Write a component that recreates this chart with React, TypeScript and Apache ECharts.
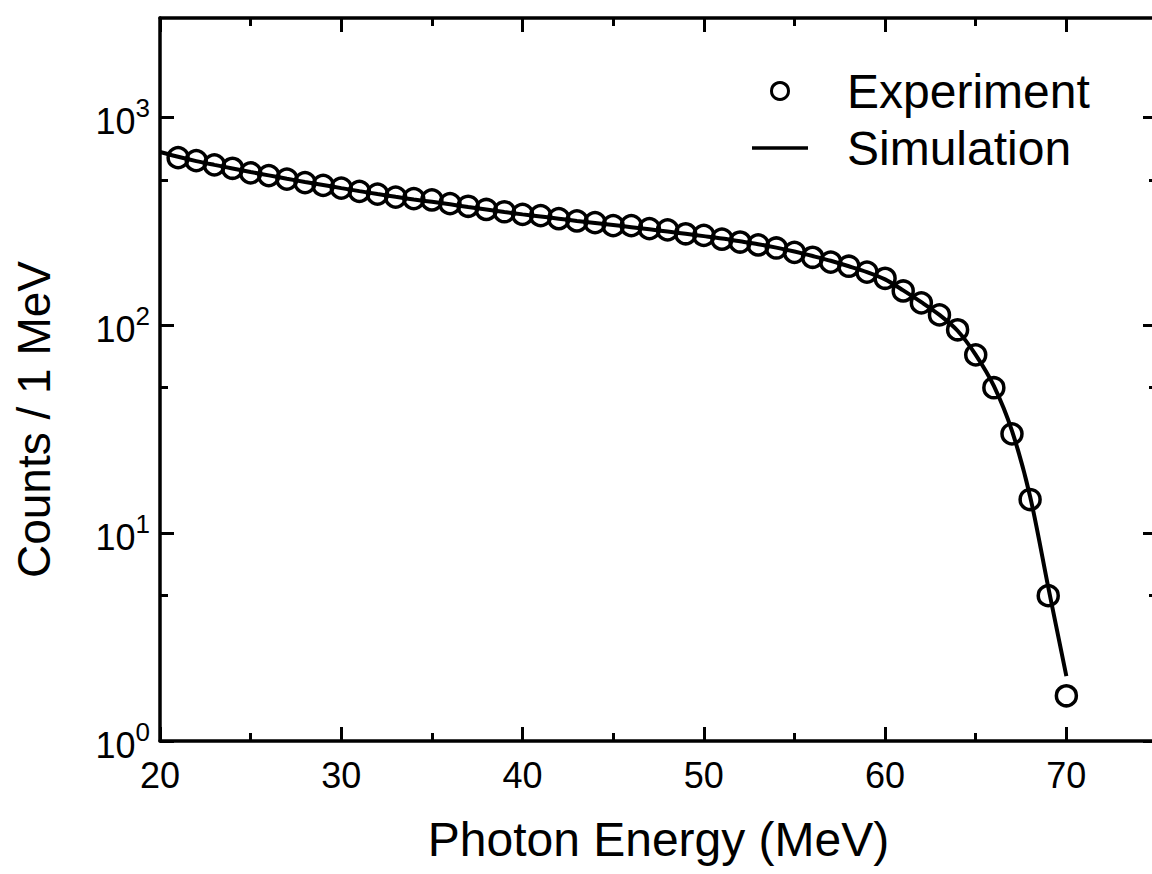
import React, { useEffect, useRef } from "react";
import * as echarts from "echarts";

// Measured photon spectrum (1 MeV bins)
const experimentEnergy = [
  21, 22, 23, 24, 25, 26, 27, 28, 29, 30,
  31, 32, 33, 34, 35, 36, 37, 38, 39, 40,
  41, 42, 43, 44, 45, 46, 47, 48, 49, 50,
  51, 52, 53, 54, 55, 56, 57, 58, 59, 60,
  61, 62, 63, 64, 65, 66, 67, 68, 69, 70,
];
const experimentCounts = [
  639, 618, 590, 568, 540, 524, 504, 485, 470, 456,
  440, 427, 413, 406, 400, 384, 373, 360, 351, 341,
  336, 325, 317, 311, 301, 301, 291, 287, 275, 270,
  259, 251, 243, 235, 224, 212, 201, 192, 180, 168,
  146, 128, 112, 95, 72, 50, 30, 14.5, 5.0, 1.65,
];

// Simulated spectrum
const simulationEnergy = [
  20, 21, 22, 23, 24, 25, 26, 27, 28, 29, 30,
  31, 32, 33, 34, 35, 36, 37, 38, 39, 40,
  41, 42, 43, 44, 45, 46, 47, 48, 49, 50,
  51, 52, 53, 54, 55, 56, 57, 58, 59, 60,
  61, 62, 63, 64, 65, 66, 67, 68, 69, 70,
];
const simulationCounts = [
  680, 645, 615, 590, 567, 545, 525, 506, 488, 472, 456,
  441, 427, 414, 402, 392, 381, 370, 360, 350, 341,
  333, 325, 317, 310, 303, 296, 289, 282, 275, 268,
  261, 253, 245, 236, 226, 215, 204, 192, 180, 166,
  147, 129, 112, 94, 72, 51, 31, 15, 5.5, 2.05,
];

// Axis ticks
const xMajorTicks = [20, 30, 40, 50, 60, 70];
const xMinorTicks = [25, 35, 45, 55, 65];
const yMajorTicks = [1, 10, 100, 1000];
const yMinorTicks = [5, 50, 500];

const X_MIN = 20;
const X_MAX = 75;
const Y_MIN = 1;
const Y_MAX = 3000;

const FONT = '"Liberation Sans", Arial, Helvetica, sans-serif';
const INK = "#000";
const AXIS_W = 3.5;

function xAxisDef(position: "top" | "bottom", ticks: number[], length: number, main: boolean, labels: boolean) {
  return {
    type: "value",
    position,
    min: X_MIN,
    max: X_MAX,
    axisLine: { show: main, onZero: false, lineStyle: { color: INK, width: AXIS_W } },
    axisTick: { show: true, inside: true, length, customValues: ticks, lineStyle: { color: INK, width: 3 } },
    axisLabel: labels
      ? { show: true, customValues: ticks, fontSize: 36, color: INK, fontFamily: FONT, margin: 16 }
      : { show: false },
    splitLine: { show: false },
  };
}

function yAxisDef(position: "left" | "right", ticks: number[], length: number, main: boolean, labels: boolean) {
  return {
    type: "log",
    logBase: 10,
    position,
    min: Y_MIN,
    max: Y_MAX,
    axisLine: { show: main, onZero: false, lineStyle: { color: INK, width: AXIS_W } },
    axisTick: { show: true, inside: true, length, customValues: ticks, lineStyle: { color: INK, width: 3 } },
    axisLabel: labels
      ? {
          show: true,
          customValues: ticks,
          margin: 10,
          formatter: (v: number) => `{b|10}{s|${Math.round(Math.log10(v))}}`,
          rich: {
            b: { fontSize: 36, lineHeight: 44, verticalAlign: "bottom", color: INK, fontFamily: FONT },
            s: { fontSize: 26, lineHeight: 26, verticalAlign: "top", color: INK, fontFamily: FONT },
          },
        }
      : { show: false },
    splitLine: { show: false },
    minorSplitLine: { show: false },
  };
}

export default function App() {
  const ref = useRef<HTMLDivElement>(null);

  useEffect(() => {
    if (!ref.current) return;
    const chart = echarts.init(ref.current, null, { renderer: "svg" });

    const bottomMain: any = xAxisDef("bottom", xMajorTicks, 14, true, true);
    bottomMain.name = "Photon Energy (MeV)";
    bottomMain.nameLocation = "middle";
    bottomMain.nameGap = 74;
    bottomMain.nameTextStyle = { fontSize: 48, color: INK, fontFamily: FONT };

    const leftMain: any = yAxisDef("left", yMajorTicks, 14, true, true);
    leftMain.name = "Counts / 1 MeV";
    leftMain.nameLocation = "middle";
    leftMain.nameGap = 103;
    leftMain.nameTextStyle = { fontSize: 46, color: INK, fontFamily: FONT, padding: [0, 80, 0, 0] };

    chart.setOption({
      animation: false,
      backgroundColor: "#fff",
      grid: { left: 160, top: 18, right: 23, bottom: 133, outerBoundsMode: "none" },
      legend: {
        orient: "vertical",
        left: 752,
        top: 66,
        padding: 0,
        itemWidth: 56,
        itemHeight: 17,
        itemGap: 7,
        selectedMode: false,
        textStyle: { fontSize: 48, color: INK, fontFamily: FONT, lineHeight: 50, padding: [0, 0, 0, 34] },
        data: [
          { name: "Experiment", itemStyle: { borderWidth: 3 } },
          { name: "Simulation", icon: "path://M0 0H56V3.5H0Z" },
        ],
      },
      xAxis: [
        bottomMain,
        xAxisDef("bottom", xMinorTicks, 8, false, false),
        xAxisDef("top", xMajorTicks, 14, true, false),
        xAxisDef("top", xMinorTicks, 8, false, false),
      ],
      yAxis: [
        leftMain,
        yAxisDef("left", yMinorTicks, 8, false, false),
        yAxisDef("right", yMajorTicks, 14, true, false),
        yAxisDef("right", yMinorTicks, 8, false, false),
      ],
      series: [
        {
          name: "Experiment",
          type: "scatter",
          xAxisIndex: 0,
          yAxisIndex: 0,
          symbol: "circle",
          symbolSize: 20,
          itemStyle: { color: "rgba(0,0,0,0)", borderColor: INK, borderWidth: 3.5, opacity: 1 },
          z: 2,
          data: experimentEnergy.map((e, i) => [e, experimentCounts[i]]),
        },
        {
          name: "Simulation",
          type: "line",
          xAxisIndex: 0,
          yAxisIndex: 0,
          showSymbol: false,
          symbol: "none",
          smooth: 0.3,
          lineStyle: { color: INK, width: 4 },
          itemStyle: { color: INK },
          z: 3,
          data: simulationEnergy.map((e, i) => [e, simulationCounts[i]]),
        },
      ],
    });

    return () => chart.dispose();
  }, []);

  return (
    <div
      style={{
        position: "fixed",
        left: 0,
        top: 0,
        width: 1152,
        height: 874,
        overflow: "hidden",
        background: "#fff",
      }}
    >
      <div ref={ref} style={{ width: 1180, height: 874 }} />
    </div>
  );
}
